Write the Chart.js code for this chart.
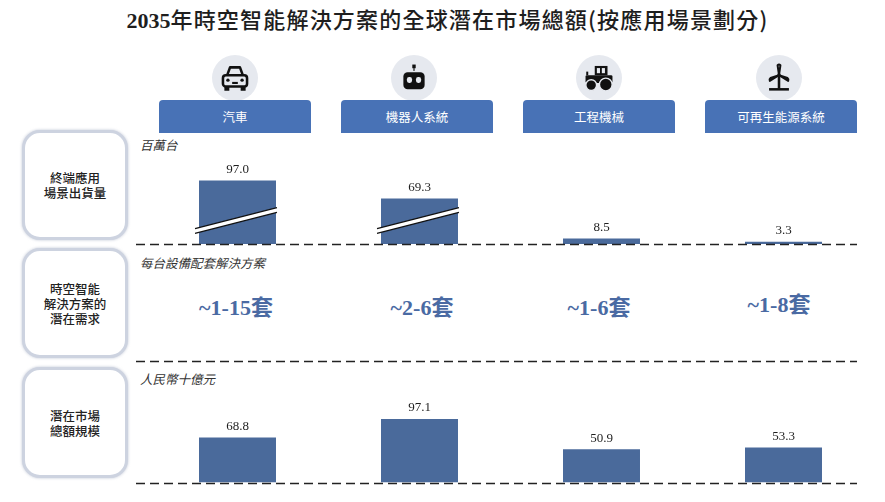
<!DOCTYPE html>
<html>
<head>
<meta charset="utf-8">
<script src="https://cdn.jsdelivr.net/npm/chart.js@4/dist/chart.umd.min.js"></script>
<style>
  html, body { margin:0; padding:0; background:#fff; }
  #wrap { position:relative; width:885px; height:502px; overflow:hidden; background:#fff; }
  .abs { position:absolute; }
  #title { left:0; width:885px; top:2px; text-align:center; font-family:"Noto Sans CJK TC","Noto Sans CJK SC",sans-serif; font-size:22px; font-weight:500; color:#1e1e1e; letter-spacing:1.2px; padding-left:10px; box-sizing:border-box; }
  #title .num { font-family:"Liberation Serif",serif; font-weight:bold; letter-spacing:0; }
  .circle { width:46px; height:46px; border-radius:50%; background:#e6e9ef; }
  .circle svg { position:absolute; left:6px; top:6px; }
  .hdr { width:152px; height:33px; background:#4872b6; color:#fff; border-radius:4px 4px 0 0; font-family:"Noto Sans CJK TC",sans-serif; font-size:12.5px; line-height:33px; text-align:center; }
  .lbox { left:22px; width:100px; border:3px solid #cdd3e0; border-radius:18px; box-shadow:0 0 3px rgba(150,160,185,0.6); background:#fff; display:flex; align-items:center; justify-content:center; text-align:center; font-family:"Noto Sans CJK TC",sans-serif; font-size:12.5px; line-height:15px; color:#222; font-weight:500; }
  .unit { left:140px; font-family:"Noto Sans CJK TC",sans-serif; font-style:italic; font-size:12.5px; color:#333; }
  .sol { width:160px; text-align:center; font-family:"Liberation Serif","Noto Sans CJK TC",serif; font-weight:bold; font-size:22px; color:#4a6aa3; line-height:24px; }
  canvas { position:absolute; left:0; }
</style>
</head>
<body>
<div id="wrap">
  <div id="title" class="abs"><span class="num">2035</span>年時空智能解決方案的全球潛在市場總額(按應用場景劃分)</div>
  <div id="deco"></div>
  <div class="lbox abs" style="top:130px;height:104px;">終端應用<br>場景出貨量</div>
  <div class="lbox abs" style="top:248px;height:104px;">時空智能<br>解決方案的<br>潛在需求</div>
  <div class="lbox abs" style="top:367px;height:105px;">潛在市場<br>總額規模</div>
  <div class="unit abs" style="top:135px;">百萬台</div>
  <div class="unit abs" style="top:253px;">每台設備配套解決方案</div>
  <div class="unit abs" style="top:369px;">人民幣十億元</div>
  <svg class="abs" style="left:0;top:0;" width="885" height="502">
    <line x1="136" y1="361.5" x2="857" y2="361.5" stroke="#222" stroke-width="1.5" stroke-dasharray="9,5"/>
  </svg>
  <canvas id="c1" width="885" height="120" style="top:130px;"></canvas>
  <canvas id="c2" width="885" height="112" style="top:375px;"></canvas>
</div>
<script>
const categories = ['汽車', '機器人系統', '工程機械', '可再生能源系統'];
const shipments = [97.0, 69.3, 8.5, 3.3];          // 百萬台
const solutionsPerUnit = ['~1-15套', '~2-6套', '~1-6套', '~1-8套'];
const marketSize = [68.8, 97.1, 50.9, 53.3];        // 人民幣十億元
const brokenBars = [0, 1];

const PX_PER_UNIT = 0.655;
const BAR_COLOR = '#4a6a9b';
const hdrLeft = [159, 341, 523, 705];
const iconCx = [235, 414, 599, 779];
const solCx = [236, 422, 599, 779];
const solCy = [308, 308, 308, 305];

const icons = [
  // car
  '<svg width="34" height="34" viewBox="0 0 24 24"><path d="M6.5 10 L8.5 4.5 H15.5 L17.5 10" fill="none" stroke="#111" stroke-width="1.8" stroke-linejoin="round"/><rect x="3.5" y="10" width="17" height="8" rx="2" fill="none" stroke="#111" stroke-width="1.8"/><rect x="4.5" y="18" width="3.5" height="3" fill="#111"/><rect x="16" y="18" width="3.5" height="3" fill="#111"/><circle cx="7" cy="13.5" r="1.2" fill="#111"/><circle cx="17" cy="13.5" r="1.2" fill="#111"/><line x1="10" y1="15.5" x2="14" y2="15.5" stroke="#111" stroke-width="1.5"/></svg>',
  // robot
  '<svg width="34" height="34" viewBox="0 0 24 24"><rect x="10.8" y="2.5" width="2.4" height="2.6" fill="#111"/><rect x="11.6" y="5" width="0.8" height="2" fill="#111"/><rect x="4.5" y="8" width="15" height="12" rx="3" fill="#111"/><rect x="7" y="11.3" width="3.6" height="4.2" rx="1.5" fill="#e6e9ef"/><rect x="13.4" y="11.3" width="3.6" height="4.2" rx="1.5" fill="#e6e9ef"/></svg>',
  // tractor
  '<svg width="34" height="34" viewBox="0 0 24 24"><rect x="9" y="3.5" width="9" height="6.5" fill="#111"/><rect x="10.5" y="5" width="2.2" height="3.6" fill="#e6e9ef"/><rect x="14" y="5" width="2.2" height="3.6" fill="#e6e9ef"/><rect x="2.5" y="10" width="19" height="5.5" rx="1" fill="#111"/><rect x="3" y="7.5" width="1.4" height="2.5" fill="#111"/><circle cx="6.5" cy="17" r="3.8" fill="#111" stroke="#e6e9ef" stroke-width="1"/><circle cx="16.8" cy="16.6" r="4.5" fill="#111" stroke="#e6e9ef" stroke-width="1"/></svg>',
  // wind turbine
  '<svg width="34" height="34" viewBox="0 0 24 24"><path d="M12 10 L11 3 Q12 2 13 3 Z" fill="none" stroke="#111" stroke-width="1.4" stroke-linejoin="round"/><path d="M12 10 L5.5 14 Q5 12.8 6 12 Z" fill="none" stroke="#111" stroke-width="1.4" stroke-linejoin="round"/><path d="M12 10 L18.5 14 Q19 12.8 18 12 Z" fill="none" stroke="#111" stroke-width="1.4" stroke-linejoin="round"/><circle cx="12" cy="10" r="1.3" fill="#111"/><line x1="12" y1="11" x2="12" y2="19.5" stroke="#111" stroke-width="1.8"/><line x1="5" y1="20" x2="19" y2="20" stroke="#111" stroke-width="1.8"/></svg>'
];

const deco = document.getElementById('deco');
categories.forEach((name, i) => {
  const c = document.createElement('div');
  c.className = 'circle abs';
  c.style.left = (iconCx[i] - 23) + 'px';
  c.style.top = '55px';
  c.innerHTML = icons[i];
  deco.appendChild(c);
  const h = document.createElement('div');
  h.className = 'hdr abs';
  h.style.left = hdrLeft[i] + 'px';
  h.style.top = '100px';
  h.textContent = name;
  deco.appendChild(h);
  const s = document.createElement('div');
  s.className = 'sol abs';
  s.style.left = (solCx[i] - 80) + 'px';
  s.style.top = (solCy[i] - 12) + 'px';
  s.textContent = solutionsPerUnit[i];
  deco.appendChild(s);
});

const decorPlugin = {
  id: 'decor',
  afterDatasetsDraw(chart, args, opts) {
    const ctx = chart.ctx;
    const meta = chart.getDatasetMeta(0);
    const y0 = chart.scales.y.getPixelForValue(0);
    ctx.save();
    if (opts.breaks) {
      opts.breaks.forEach(idx => {
        const el = meta.data[idx];
        const xl = el.x - el.width / 2 - 4;
        const xr = el.x + el.width / 2 + 1;
        const yl = y0 - 13, yr = y0 - 34;
        ctx.strokeStyle = '#fff';
        ctx.lineWidth = 4.5;
        ctx.beginPath(); ctx.moveTo(xl, yl); ctx.lineTo(xr, yr); ctx.stroke();
        ctx.strokeStyle = '#111';
        ctx.lineWidth = 1.2;
        ctx.beginPath(); ctx.moveTo(xl, yl - 2.3); ctx.lineTo(xr, yr - 2.3); ctx.stroke();
        ctx.beginPath(); ctx.moveTo(xl, yl + 2.3); ctx.lineTo(xr, yr + 2.3); ctx.stroke();
      });
    }
    ctx.fillStyle = '#1e1e1e';
    ctx.font = '13px "Liberation Serif", serif';
    ctx.textAlign = 'center';
    ctx.textBaseline = 'middle';
    const vals = chart.data.datasets[0].data;
    meta.data.forEach((el, i) => {
      ctx.fillText(vals[i].toFixed(1), el.x, el.y - 11);
    });
    ctx.strokeStyle = '#222';
    ctx.lineWidth = 1.5;
    ctx.setLineDash([9, 5]);
    ctx.beginPath();
    ctx.moveTo(136, Math.round(y0) + 0.5);
    ctx.lineTo(857, Math.round(y0) + 0.5);
    ctx.stroke();
    ctx.restore();
  }
};

function makeChart(id, values, padTop, padBottom, canvasH, breaks) {
  const areaH = canvasH - padTop - padBottom;
  return new Chart(document.getElementById(id), {
    type: 'bar',
    data: {
      labels: categories,
      datasets: [{ data: values, backgroundColor: BAR_COLOR, barPercentage: 0.423, categoryPercentage: 1.0, borderWidth: 0 }]
    },
    options: {
      responsive: false,
      animation: false,
      devicePixelRatio: 1,
      layout: { padding: { left: 146.5, right: 10.5, top: padTop, bottom: padBottom } },
      scales: {
        x: { display: false },
        y: { display: false, min: 0, max: areaH / PX_PER_UNIT }
      },
      plugins: {
        legend: { display: false },
        tooltip: { enabled: false },
        decor: { breaks: breaks }
      }
    },
    plugins: [decorPlugin]
  });
}

makeChart('c1', shipments, 10, 6, 120, brokenBars);
makeChart('c2', marketSize, 0, 4.5, 112, []);
</script>
</body>
</html>
